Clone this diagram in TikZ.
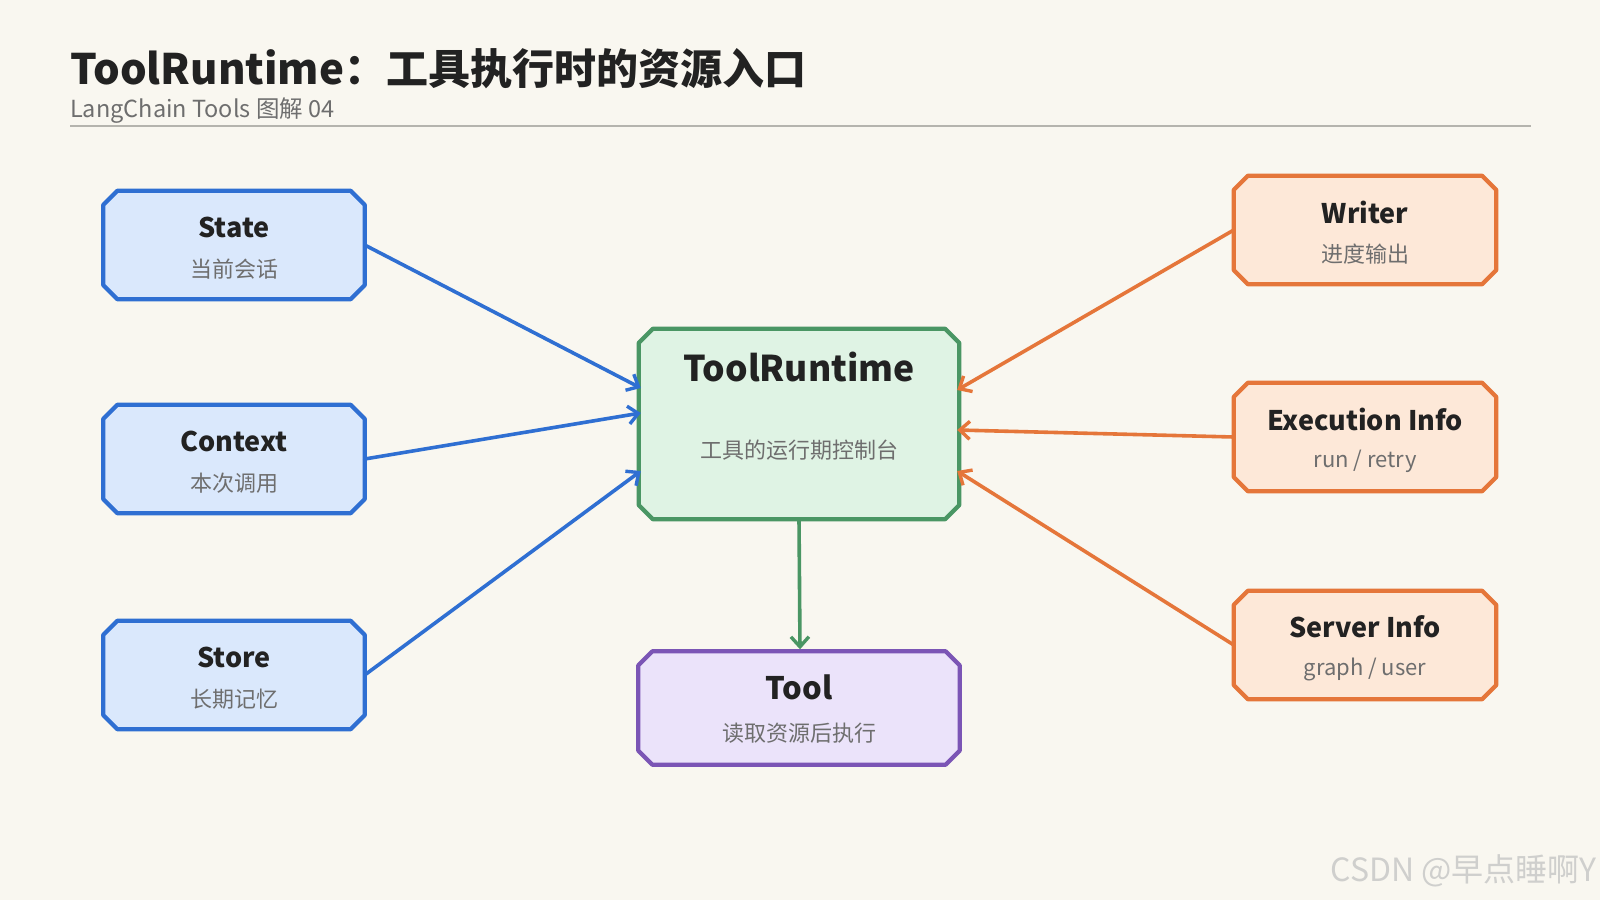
\documentclass[tikz,border=0pt]{standalone}
\usepackage{fontspec}
\setmainfont{Noto Sans CJK SC}
\usetikzlibrary{arrows.meta,calc}
\definecolor{bg}{HTML}{F9F7F0}
\definecolor{ink}{HTML}{222222}
\definecolor{sub}{HTML}{6E6E6E}
\definecolor{rulec}{HTML}{B5B4AE}
\definecolor{bstroke}{HTML}{2F6FD2}
\definecolor{bfill}{HTML}{DAE8FC}
\definecolor{gstroke}{HTML}{4A9664}
\definecolor{gfill}{HTML}{DFF3E4}
\definecolor{pstroke}{HTML}{7B55B5}
\definecolor{pfill}{HTML}{EBE3FA}
\definecolor{ostroke}{HTML}{E5763A}
\definecolor{ofill}{HTML}{FDE8D8}
\definecolor{wm}{HTML}{CFCFCD}
\newcommand\chamoutline[3]{%
  \draw[line width=4.2bp,draw=#2,fill=#3,line join=round]
    ($(#1.north west)+(14,0)$) -- ($(#1.north east)+(-14,0)$) --
    ($(#1.north east)+(0,14)$) -- ($(#1.south east)+(0,-14)$) --
    ($(#1.south east)+(-14,0)$) -- ($(#1.south west)+(14,0)$) --
    ($(#1.south west)+(0,-14)$) -- ($(#1.north west)+(0,14)$) -- cycle;}
\tikzset{
  holder/.style={rectangle,draw=none,inner sep=0pt,minimum width=261bp,minimum height=108bp},
  ttl/.style={font=\fontsize{27bp}{31bp}\selectfont\bfseries,text=ink,inner sep=0pt},
  subt/.style={font=\fontsize{22bp}{26bp}\selectfont,text=sub,inner sep=0pt},
  arr/.style={draw=#1,line width=3.6bp,line cap=round,-{Straight Barb[length=10bp,width=18bp,line width=3.4bp]}},
}
\begin{document}
\begin{tikzpicture}[x=1bp,y=-1bp]
\useasboundingbox (0,0) rectangle (1600,900);
\fill[bg] (0,0) rectangle (1600,900);
% header
\node[anchor=base west,inner sep=0pt,font=\fontsize{42bp}{48bp}\selectfont\bfseries,text=ink] (title) at (70,84) {ToolRuntime：工具执行时的资源入口};
\node[anchor=base west,inner sep=0pt,font=\fontsize{23.5bp}{27bp}\selectfont,text=sub] (subtitle) at (70,117) {LangChain Tools 图解 04};
\coordinate (rl) at (70,126);
\coordinate (rr) at (1531,126);
\draw[rulec,line width=2bp] (rl) -- (rr);
% holders
\node[holder] (state) at (234,245) {};
\node[holder] (context) at (234,459) {};
\node[holder] (store) at (234,675) {};
\node[holder,minimum width=320bp,minimum height=190bp] (tr) at (799,424) {};
\node[holder,minimum width=321bp,minimum height=113bp] (tool) at (799,708) {};
\node[holder,minimum width=262bp] (writer) at (1365,230) {};
\node[holder,minimum width=262bp] (exec) at (1365,437) {};
\node[holder,minimum width=262bp] (server) at (1365,645) {};
% outlines
\chamoutline{state}{bstroke}{bfill}
\chamoutline{context}{bstroke}{bfill}
\chamoutline{store}{bstroke}{bfill}
\chamoutline{tr}{gstroke}{gfill}
\chamoutline{tool}{pstroke}{pfill}
\chamoutline{writer}{ostroke}{ofill}
\chamoutline{exec}{ostroke}{ofill}
\chamoutline{server}{ostroke}{ofill}
% texts
\node[ttl] (stateT) at ($(state.center)+(0,-18)$) {State};
\node[subt] (stateS) at ($(state.center)+(0,24)$) {当前会话};
\node[ttl] (contextT) at ($(context.center)+(0,-18)$) {Context};
\node[subt] (contextS) at ($(context.center)+(0,24)$) {本次调用};
\node[ttl] (storeT) at ($(store.center)+(0,-18)$) {Store};
\node[subt] (storeS) at ($(store.center)+(0,24)$) {长期记忆};
\node[ttl,font=\fontsize{35.5bp}{40bp}\selectfont\bfseries] (trT) at ($(tr.center)+(0,-57)$) {ToolRuntime};
\node[subt] (trS) at ($(tr.center)+(0,26)$) {工具的运行期控制台};
\node[ttl,font=\fontsize{31bp}{35bp}\selectfont\bfseries] (toolT) at ($(tool.center)+(0,-21)$) {Tool};
\node[subt] (toolS) at ($(tool.center)+(0,25)$) {读取资源后执行};
\node[ttl] (writerT) at ($(writer.center)+(0,-18)$) {Writer};
\node[subt] (writerS) at ($(writer.center)+(0,24)$) {进度输出};
\node[ttl] (execT) at ($(exec.center)+(0,-18)$) {Execution Info};
\node[subt] (execS) at ($(exec.center)+(0,24)$) {run / retry};
\node[ttl] (serverT) at ($(server.center)+(0,-18)$) {Server Info};
\node[subt] (serverS) at ($(server.center)+(0,24)$) {graph / user};
% arrows
\draw[arr=bstroke] (state.east) -- ($(tr.west)+(2,-36)$);
\draw[arr=bstroke] (context.east) -- ($(tr.west)+(2,-11)$);
\draw[arr=bstroke] (store.east) -- ($(tr.west)+(2,47)$);
\draw[arr=ostroke] (writer.west) -- ($(tr.east)+(-2,-34)$);
\draw[arr=ostroke] (exec.west) -- ($(tr.east)+(-2,6)$);
\draw[arr=ostroke] (server.west) -- ($(tr.east)+(-2,47)$);
\draw[arr=gstroke] (tr.south) -- ($(tool.north)+(1,-2)$);
% watermark
\node[anchor=east,inner sep=0pt,font=\fontsize{32bp}{36bp}\selectfont,text=wm] (wmark) at (1597,871) {CSDN @早点睡啊Y};
\end{tikzpicture}
\end{document}
